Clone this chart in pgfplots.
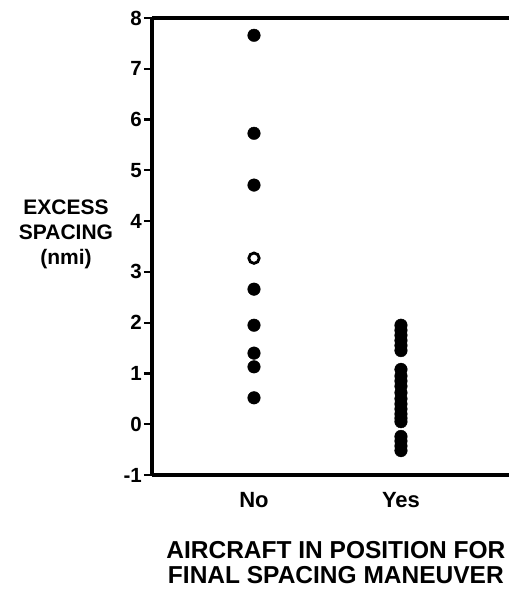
\documentclass[border=0pt]{standalone}
\usepackage{fontspec}
\setmainfont{Liberation Sans}
\usepackage{pgfplots}
\pgfplotsset{compat=1.18}
\newcommand{\tickfont}{\fontsize{20.5bp}{22bp}\selectfont\bfseries}
\newcommand{\xtickfont}{\fontsize{22bp}{24bp}\selectfont\bfseries}
\newcommand{\ylabfont}{\fontsize{21bp}{25bp}\selectfont\bfseries}
\newcommand{\xlabfont}{\fontsize{24.5bp}{25bp}\selectfont\bfseries}
\begin{document}
\begin{tikzpicture}
\begin{axis}[
  at={(0,0)}, anchor=south west,
  scale only axis,
  width=357bp, height=457bp,
  xmin=-0.694, xmax=1.735,
  ymin=-1, ymax=8,
  axis x line=box, axis y line=left,
  axis line style={line width=3.2bp, -},
  xtick={0,1}, xticklabels={No,Yes},
  x tick style={draw=none},
  ytick={-1,0,...,8},
  yticklabels={-1,0,1,2,3,4,5,6,7,8},
  y tick style={line width=2.2bp, black},
  tick align=outside,
  major tick length=8bp,
  /pgf/number format/assume math mode=true,
  yticklabel style={font=\tickfont, inner sep=2bp},
  xticklabel style={font=\xtickfont, yshift=-6bp},
  ylabel={\ylabfont EXCESS\\\ylabfont SPACING\\\ylabfont (nmi)},
  every axis y label/.style={at={(axis description cs:-0.241,0.526)}, anchor=center, align=center, font=\ylabfont},
  xlabel={\xlabfont AIRCRAFT IN POSITION FOR\\\xlabfont FINAL SPACING MANEUVER},
  every axis x label/.style={at={(axis description cs:0.515,-0.1915)}, anchor=center, align=center, font=\xlabfont},
  clip=false,
]
\addplot[only marks, mark=*, mark size=6.3bp, mark options={fill=black, draw=black}] coordinates {
 (0,7.66) (0,5.73) (0,4.71) (0,2.66) (0,1.95) (0,1.40) (0,1.13) (0,0.52)
};
\addplot[only marks, mark=*, mark size=5.2bp, mark options={fill=white, draw=black, line width=2.8bp}] coordinates {
 (0,3.27)
};
\addplot[only marks, mark=*, mark size=6.3bp, mark options={fill=black, draw=black}] coordinates {
 (1,1.95) (1,1.85) (1,1.75) (1,1.65) (1,1.55) (1,1.45)
 (1,1.08) (1,0.95) (1,0.85) (1,0.75) (1,0.62) (1,0.50) (1,0.40) (1,0.30) (1,0.20) (1,0.12) (1,0.05)
 (1,-0.24) (1,-0.33) (1,-0.43) (1,-0.52)
};
\end{axis}
\pgfresetboundingbox
\useasboundingbox (-152bp,-118bp) rectangle (357bp,475bp);
\end{tikzpicture}
\end{document}
